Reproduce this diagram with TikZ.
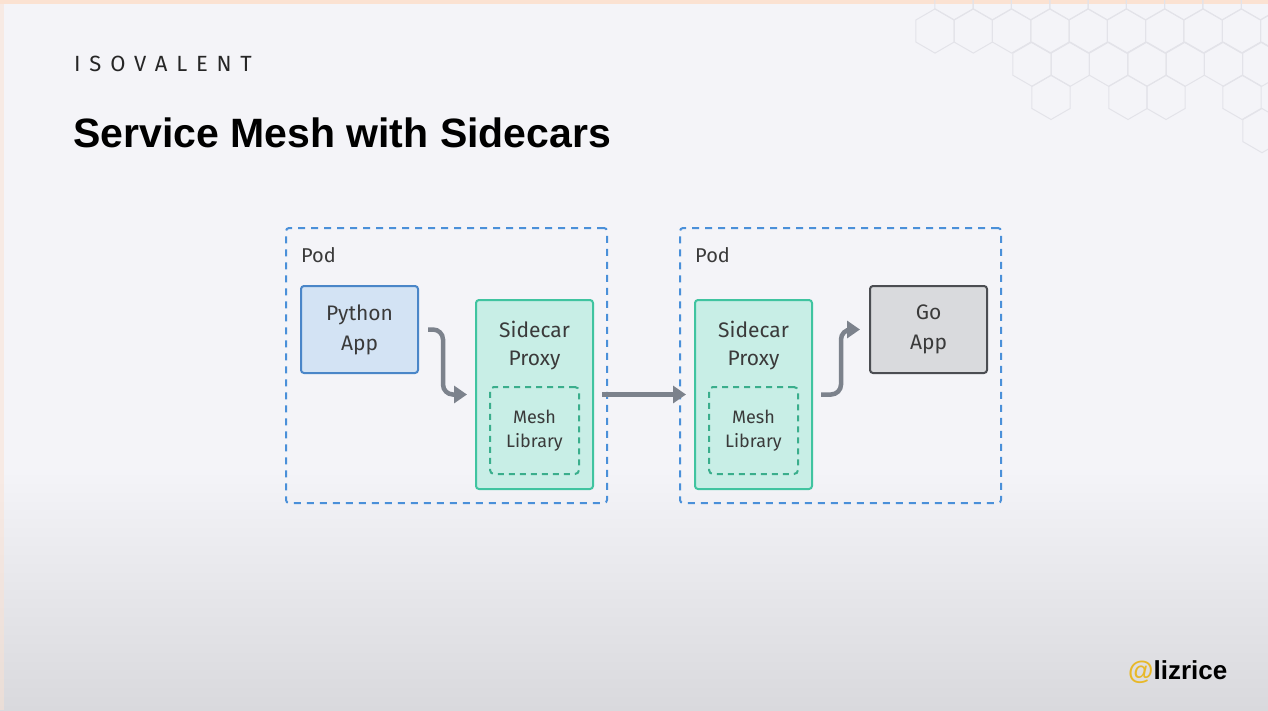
\documentclass[tikz,border=0pt]{standalone}
\usepackage{fontspec}
\setmainfont{Fira Sans}
\newfontfamily\titlefont{Liberation Sans}
\newfontfamily\logofont[LetterSpace=40]{Fira Sans}
\usetikzlibrary{arrows.meta,positioning}

\definecolor{bgtop}{HTML}{F4F4F8}
\definecolor{bgbot}{HTML}{D9D9DD}
\definecolor{peach}{HTML}{FBE2D2}
\definecolor{hexgray}{HTML}{E3E3E9}
\definecolor{podline}{HTML}{4A90D9}
\definecolor{pyfill}{HTML}{D3E3F4}
\definecolor{pyline}{HTML}{4A86C8}
\definecolor{proxyfill}{HTML}{C8EEE6}
\definecolor{proxyline}{HTML}{40C4A0}
\definecolor{meshline}{HTML}{3AAE8C}
\definecolor{gofill}{HTML}{D9DADD}
\definecolor{goline}{HTML}{4B4D52}
\definecolor{flowgray}{HTML}{7C828C}
\definecolor{textgray}{HTML}{3A3A3A}
\definecolor{handle}{HTML}{E8B828}

\begin{document}
\begin{tikzpicture}[x=1pt, y=-1pt,
  >={Triangle[length=13pt,width=17pt]},
  hexline/.style={draw=hexgray, line width=1pt},
  pod/.style={draw=podline, line width=2pt, dash pattern=on 7pt off 6pt,
    rounded corners=3pt, minimum width=321pt, minimum height=275pt},
  app/.style={line width=2pt, rounded corners=3pt, minimum width=117pt,
    minimum height=87pt, align=center, text=textgray,
    font=\fontsize{21}{30}\selectfont},
  proxy/.style={draw=proxyline, fill=proxyfill, line width=2pt,
    rounded corners=3pt, minimum width=117pt, minimum height=189pt},
  proxy text/.style={align=center, text=textgray,
    font=\fontsize{21}{28}\selectfont},
  mesh/.style={draw=meshline, line width=2pt, dash pattern=on 6pt off 5pt,
    rounded corners=4pt, minimum width=89pt, minimum height=87pt,
    align=center, text=textgray, font=\fontsize{18}{24}\selectfont},
  flow/.style={->, draw=flowgray, line width=4.5pt, rounded corners=10pt}]

\useasboundingbox (0,0) rectangle (1268,710);
\clip (0,0) rectangle (1268,710);

% background
\fill[bgtop] (0,0) rectangle (1268,710);
\shade[top color=bgtop, bottom color=bgbot] (0,470) rectangle (1268,710);
\fill[peach] (0,0) rectangle (1268,4);
\fill[peach, opacity=0.5] (0,0) rectangle (4,710);

% honeycomb
\foreach \r/\xa/\n in {0/954/8, 1/935/9, 2/1032/6}
  \foreach \c in {0,...,\n}
    \draw[hexline] ({\xa+38.3*\c},{31+33.2*(\r-1)})
      +(90:22.1) -- +(30:22.1) -- +(-30:22.1) -- +(-90:22.1)
      -- +(-150:22.1) -- +(150:22.1) -- cycle;
\foreach \cx/\cy in {1051/97.4, 1128/97.4, 1166/97.4, 1242/97.4, 1262/130.6}
  \draw[hexline] (\cx,\cy)
    +(90:22.1) -- +(30:22.1) -- +(-30:22.1) -- +(-90:22.1)
    -- +(-150:22.1) -- +(150:22.1) -- cycle;

% heading
\node[anchor=base west, inner sep=0pt, text=black!85,
  font=\logofont\fontsize{22}{22}\selectfont] (brand) at (74,71) {ISOVALENT};
\node[anchor=base west, inner sep=0pt, text=black,
  font=\titlefont\bfseries\fontsize{41}{41}\selectfont] (title) at (73,147)
  {Service Mesh with Sidecars};

% pods
\foreach \n/\x in {1/446.5, 2/840.5} {
  \node[pod] (pod-\n) at (\x,365.5) {};
  \node[anchor=north west, inner sep=0pt, text=textgray,
    font=\fontsize{20}{20}\selectfont] (pod-\n-label)
    at ([xshift=16pt,yshift=-20pt]pod-\n.north west) {Pod};
}

% applications
\node[app, draw=pyline, fill=pyfill] (py) at (359.5,329.5) {Python\\App};
\node[app, draw=goline, fill=gofill] (go) at (928.5,329.5) {Go\\App};

% sidecars with mesh library
\foreach \n/\x in {1/534.5, 2/753.5} {
  \node[proxy] (sc-\n) at (\x,394.5) {};
  \node[proxy text] (sc-\n-text) at (\x,346) {Sidecar\\Proxy};
  \node[mesh] (ml-\n) at (\x,430.5) {Mesh\\Library};
}

% traffic
\draw[flow] ([xshift=9pt]py.east) -- ++(15,0) |- ([xshift=-8pt]sc-1.west);
\draw[flow] ([xshift=8pt]sc-1.east) -- ([xshift=-8pt]sc-2.west);
\draw[flow] ([xshift=8pt]sc-2.east) -- ++(20,0) |- ([xshift=-9pt]go.west);

% handle
\node[anchor=base west, inner sep=0pt,
  font=\titlefont\bfseries\fontsize{26}{26}\selectfont] (handle) at (1128,679)
  {\textcolor{handle}{@}lizrice};

\end{tikzpicture}
\end{document}
